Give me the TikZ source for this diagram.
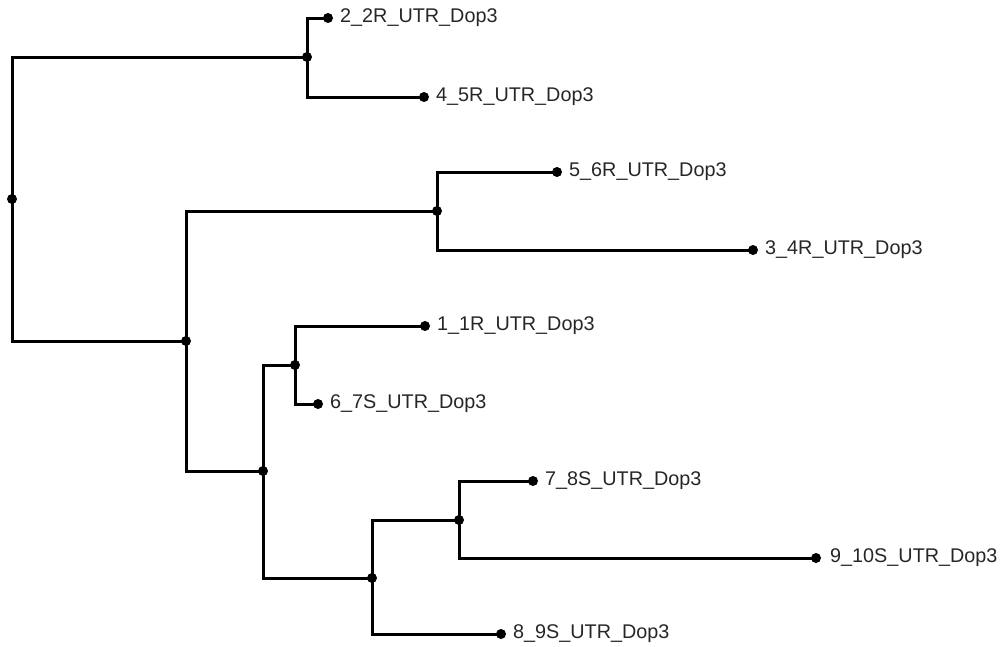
\documentclass[tikz,border=0pt]{standalone}
\usepackage{fontspec}
\setmainfont{Liberation Sans}
\begin{document}
\begin{tikzpicture}[x=1pt,y=-1pt,
  br/.style={line width=3pt,line cap=rect},
  dot/.style={circle,fill=black,inner sep=0pt,minimum size=10pt},
  lbl/.style={anchor=west,inner sep=0pt,font=\fontsize{19.8}{22}\selectfont,text=black!85}]
\useasboundingbox (0,0) rectangle (1005,646);
% internal nodes
\node[dot] (r) at (12,199) {};
\node[dot] (a) at (307,57) {};
\node[dot] (b) at (186,341) {};
\node[dot] (c) at (437,211) {};
\node[dot] (d) at (263,471) {};
\node[dot] (e) at (295,365) {};
\node[dot] (f) at (372,578) {};
\node[dot] (g) at (459,520) {};
% leaves
\node[dot] (l1) at (328,18) {};
\node[dot] (l2) at (424,97) {};
\node[dot] (l3) at (557,172) {};
\node[dot] (l4) at (753,250) {};
\node[dot] (l5) at (425,326) {};
\node[dot] (l6) at (318,404) {};
\node[dot] (l7) at (533,481) {};
\node[dot] (l8) at (816,558) {};
\node[dot] (l9) at (501,634) {};
% labels
\node[lbl] (t1) at ([xshift=12pt]l1.center) {2\_2R\_UTR\_Dop3};
\node[lbl] (t2) at ([xshift=12pt]l2.center) {4\_5R\_UTR\_Dop3};
\node[lbl] (t3) at ([xshift=12pt]l3.center) {5\_6R\_UTR\_Dop3};
\node[lbl] (t4) at ([xshift=12pt]l4.center) {3\_4R\_UTR\_Dop3};
\node[lbl] (t5) at ([xshift=12pt]l5.center) {1\_1R\_UTR\_Dop3};
\node[lbl] (t6) at ([xshift=12pt]l6.center) {6\_7S\_UTR\_Dop3};
\node[lbl] (t7) at ([xshift=12pt]l7.center) {7\_8S\_UTR\_Dop3};
\node[lbl] (t8) at ([xshift=14pt]l8.center) {9\_10S\_UTR\_Dop3};
\node[lbl] (t9) at ([xshift=12pt]l9.center) {8\_9S\_UTR\_Dop3};
% branches
\draw[br] (r.center) |- (a.center);
\draw[br] (r.center) |- (b.center);
\draw[br] (a.center) |- (l1.center);
\draw[br] (a.center) |- (l2.center);
\draw[br] (b.center) |- (c.center);
\draw[br] (b.center) |- (d.center);
\draw[br] (c.center) |- (l3.center);
\draw[br] (c.center) |- (l4.center);
\draw[br] (d.center) |- (e.center);
\draw[br] (d.center) |- (f.center);
\draw[br] (e.center) |- (l5.center);
\draw[br] (e.center) |- (l6.center);
\draw[br] (f.center) |- (g.center);
\draw[br] (f.center) |- (l9.center);
\draw[br] (g.center) |- (l7.center);
\draw[br] (g.center) |- (l8.center);
\end{tikzpicture}
\end{document}
